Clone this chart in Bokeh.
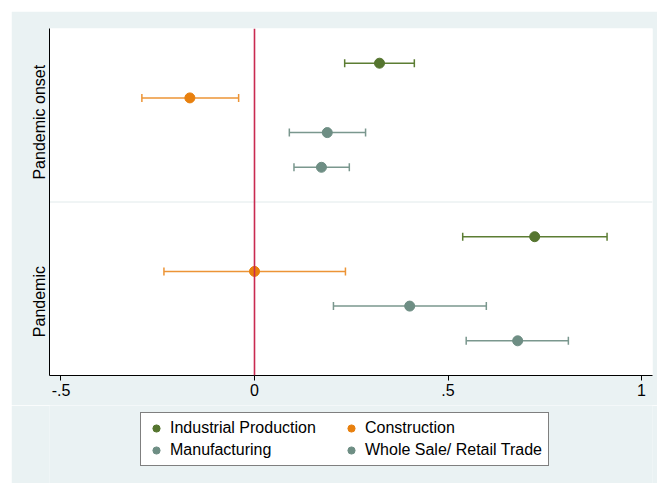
from bokeh.plotting import figure
from bokeh.layouts import column
from bokeh.models import (ColumnDataSource, Whisker, TeeHead, Span, Legend,
                          LegendItem, FixedTicker, Range1d)
from bokeh.embed import file_html
from bokeh.resources import INLINE

# Coefficient estimates with 95% confidence bounds, by sector and period
sectors = ["Industrial Production", "Construction", "Manufacturing",
           "Whole Sale/ Retail Trade"]
periods = ["Pandemic onset", "Pandemic"]

onset_est = [0.323, -0.167, 0.188, 0.173]
onset_lo = [0.233, -0.291, 0.090, 0.102]
onset_hi = [0.413, -0.041, 0.287, 0.245]

pandemic_est = [0.724, 0.000, 0.401, 0.680]
pandemic_lo = [0.538, -0.234, 0.204, 0.547]
pandemic_hi = [0.911, 0.235, 0.599, 0.811]

x_ticks = [-0.5, 0.0, 0.5, 1.0]
x_tick_labels = ["-.5", "0", ".5", "1"]

colors = ["#55752F", "#E8800E", "#6E8E84", "#6E8E84"]
bar_colors = ["#5C7D33", "#EC9436", "#7A978E", "#7A978E"]

FONT = "Liberation Sans"
BG = "#EAF2F3"

# vertical slots: each period is a block of four rows, block tops at 9 and 4
group_tops = [9, 4]
group_label_pos = [7.3, 2.13]

p = figure(width=646, height=394,
           x_range=Range1d(-0.5297, 1.0284), y_range=Range1d(0, 10),
           output_backend="svg", toolbar_location=None,
           min_border_left=38, min_border_right=5, min_border_top=17,
           min_border_bottom=30,
           background_fill_color="white", border_fill_color=BG,
           outline_line_color=None)
p.margin = (11, 0, 0, 11)

p.xgrid.visible = False
p.ygrid.visible = False

# separator between the two periods
p.add_layout(Span(location=5, dimension="width", line_color="#E1EAEB",
                  line_width=1, level="underlay"))
# reference line at zero
p.add_layout(Span(location=0, dimension="height", line_color="#C92A50",
                  line_width=1.6))

est_sets = [onset_est, pandemic_est]
lo_sets = [onset_lo, pandemic_lo]
hi_sets = [onset_hi, pandemic_hi]

for i, sector in enumerate(sectors):
    ys = [top - i for top in group_tops]
    src = ColumnDataSource(dict(
        x=[est[i] for est in est_sets],
        y=ys,
        lo=[lo[i] for lo in lo_sets],
        hi=[hi[i] for hi in hi_sets],
    ))
    w = Whisker(source=src, base="y", lower="lo", upper="hi",
                dimension="width", line_color=bar_colors[i], line_width=1.5,
                upper_head=TeeHead(size=8, line_color=bar_colors[i],
                                   line_width=1.5),
                lower_head=TeeHead(size=8, line_color=bar_colors[i],
                                   line_width=1.5))
    p.add_layout(w)
    p.scatter("x", "y", source=src, size=10, fill_color=colors[i],
              line_color=colors[i])

# x axis
xa = p.xaxis[0]
xa.ticker = FixedTicker(ticks=x_ticks)
xa.major_label_overrides = {t: lab for t, lab in zip(x_ticks, x_tick_labels)}
xa.major_tick_out = 5
xa.major_tick_in = 0
xa.minor_tick_out = 0
xa.minor_tick_in = 0
xa.axis_line_color = "black"
xa.major_tick_line_color = "black"
xa.major_label_text_font = FONT
xa.major_label_text_font_size = "16px"
xa.major_label_text_color = "black"
xa.major_label_standoff = 3

# y axis carries the period labels
ya = p.yaxis[0]
ya.ticker = FixedTicker(ticks=group_label_pos)
ya.major_label_overrides = {t: lab for t, lab in zip(group_label_pos, periods)}
ya.major_label_orientation = "vertical"
ya.major_tick_out = 0
ya.major_tick_in = 0
ya.minor_tick_out = 0
ya.minor_tick_in = 0
ya.axis_line_color = "black"
ya.major_label_text_font = FONT
ya.major_label_text_font_size = "16px"
ya.major_label_text_color = "black"
ya.major_label_standoff = 1

# strip under the chart that holds the legend
leg_fig = figure(width=646, height=78, x_range=Range1d(0, 1),
                 y_range=Range1d(0, 1), output_backend="svg",
                 toolbar_location=None, min_border=0,
                 x_axis_location=None, y_axis_location=None,
                 background_fill_color=BG, border_fill_color=BG,
                 outline_line_color=None)
leg_fig.margin = (0, 0, 0, 11)
leg_fig.grid.visible = False

# legend keys: same marker styles, holding a single empty (NaN) point
nan = float("nan")
keys = [leg_fig.scatter(x=[nan], y=[nan], size=10, fill_color=c, line_color=c)
        for c in colors]

# legend fills column by column: left column IP / Manufacturing,
# right column Construction / Whole Sale
legend_order = [0, 2, 1, 3]
legend = Legend(
    items=[LegendItem(label=sectors[k], renderers=[keys[k]])
           for k in legend_order],
    ncols=2, location=(91, 17),
    label_text_font=FONT, label_text_font_size="16px",
    label_text_color="black",
    glyph_width=18, glyph_height=18, label_standoff=5, label_width=168,
    padding=6, spacing=4, margin=0,
    border_line_color="black", border_line_width=1,
    background_fill_color="white", background_fill_alpha=1.0,
)
leg_fig.add_layout(legend, "center")

layout = column(p, leg_fig, spacing=0)
open("out.html", "w").write(file_html(layout, INLINE))
